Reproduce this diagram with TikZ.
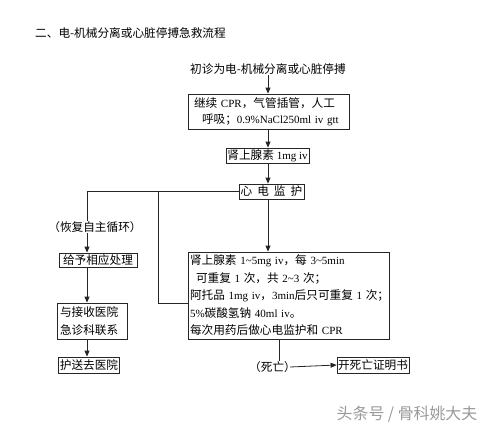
\documentclass[tikz,border=0pt]{standalone}
\usepackage{fontspec}
\setmainfont{Liberation Serif}
\newfontfamily\cjkf{Noto Sans CJK SC}[Scale=1.06]
\usetikzlibrary{arrows.meta}
\newcommand\zh[1]{{\cjkf #1}}
\begin{document}
\begin{tikzpicture}[x=1pt,y=-1pt,
  every node/.style={font=\fontsize{11}{16}\selectfont, text=black},
  box/.style={draw=black!85, line width=0.8pt, inner sep=1pt},
  line/.style={draw=black!85, line width=0.8pt},
  arr/.style={line, -{Triangle[length=6pt,width=5pt]}}]
\useasboundingbox (0,0) rectangle (491,429);

\node[anchor=west, inner sep=0pt] (title) at (35,33) {\zh{二、电-机械分离或心脏停搏急救流程}};
\node[inner sep=0pt] (start) at (268,69) {\zh{初诊为电-机械分离或心脏停搏}};
\node[box, minimum width=161pt, minimum height=35pt, text width=149pt, align=left] (b1) at (268.5,111.5)
  {\zh{继续} CPR\zh{，气管插管，人工}\\\hspace*{8pt}\zh{呼吸；}0.9\%NaCl250ml iv gtt};
\node[box, minimum width=83pt, minimum height=15pt] (b2) at (267.5,155.5) {\zh{肾上腺素} 1mg iv};
\node[box, minimum width=65pt, minimum height=15pt] (b3) at (271.5,191.5) {\zh{心\hspace{5pt}电\hspace{5pt}监\hspace{5pt}护}};

\coordinate (M) at (268,0);
\coordinate (L) at (87,191.5);
\coordinate (K) at (158,191.5);
\coordinate (J) at (158,303);
\coordinate (D) at (279,0);

\node[inner sep=0pt] (rec) at (95,227) {\zh{（恢复自主循环）}};
\node[box, minimum width=78pt, minimum height=14pt] (b5) at (98,260) {\zh{给予相应处理}};
\node[box, minimum width=70pt, minimum height=36pt, text width=64pt, align=left, font=\fontsize{11}{18}\selectfont] (b6) at (92,321) {\zh{与接收医院}\\\zh{急诊科联系}};
\node[box, minimum width=60pt, minimum height=16pt] (b7) at (89,365) {\zh{护送去医院}};
\node[box, minimum width=201pt, minimum height=87pt, text width=197pt, align=left, font=\fontsize{11}{17.5}\selectfont] (b4) at (288.5,295.5)
  {\zh{肾上腺素} 1\textasciitilde5mg iv\zh{，每} 3\textasciitilde5min\\
   \hspace*{6pt}\zh{可重复} 1 \zh{次，共} 2\textasciitilde3 \zh{次；}\\
   \mbox{\zh{阿托品} 1mg iv\zh{，}3min\zh{后只可重复} 1 \zh{次；}}\\
   5\%\zh{碳酸氢钠} 40ml iv\zh{。}\\
   \zh{每次用药后做心电监护和} CPR};
\node[inner sep=0pt] (dead) at (272.5,367) {\zh{（死亡）}};
\node[box, minimum width=72pt, minimum height=16pt, inner sep=0pt] (cert) at (373,365) {\zh{开死亡证明书}};
\node[inner sep=0pt, text=black!40] (wm) at (407,414) {\fontsize{15}{15}\selectfont\zh{头条号 / 骨科姚大夫}};

\draw[arr] (start.south -| M) -- (b1.north -| M);
\draw[arr] (b1.south -| M) -- (b2.north -| M);
\draw[arr] (b2.south -| M) -- (b3.north -| M);
\draw[arr] (b3.south -| M) -- (b4.north -| M);
\draw[line] (b3.west) -- (L) -- (L |- rec.north);
\draw[arr] (L |- rec.south) -- (L |- b5.north);
\draw[arr] (b5.south -| L) -- (b6.north -| L);
\draw[arr] (b6.south -| L) -- (b7.north -| L);
\draw[line] (K) -- (J) -- (J -| b4.west);
\draw[line] (b4.south -| D) -- (D |- dead.north);
\draw[arr] ([xshift=-6pt]dead.east) -- (cert.west);
\end{tikzpicture}
\end{document}
